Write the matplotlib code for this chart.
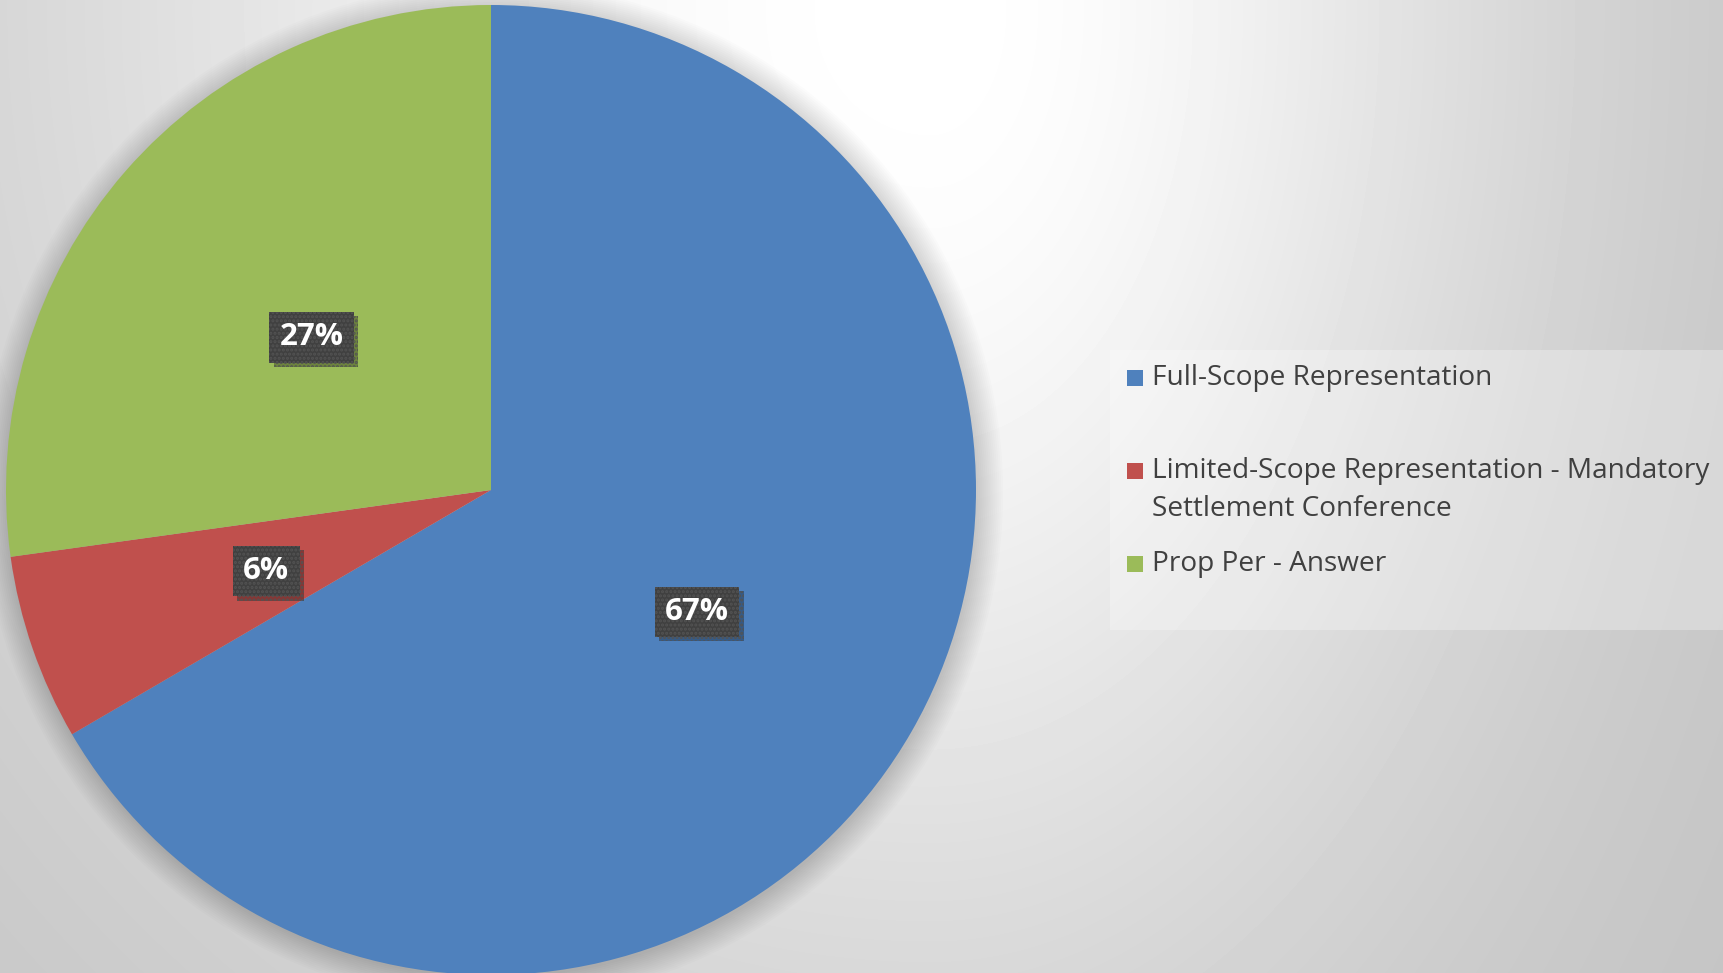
import numpy as np
import matplotlib
matplotlib.use("Agg")
import matplotlib.pyplot as plt
from matplotlib.patches import Circle, Rectangle
import matplotlib.patheffects as pe

categories = ["Full-Scope Representation",
              "Limited-Scope Representation - Mandatory Settlement Conference",
              "Prop Per - Answer"]
shares = [66.6, 6.2, 27.2]
colors = ["#4F81BD", "#C0504D", "#9BBB59"]

W, H = 1723, 973
fig = plt.figure(figsize=(W / 100, H / 100), dpi=100)

# background: soft radial gradient, brightest near the top middle
bg = fig.add_axes([0, 0, 1, 1], zorder=0)
xx, yy = np.meshgrid(np.arange(W), np.arange(H))
dx = xx - 930.0
dx = np.where(dx < 0, dx / 1300.0, dx / 850.0)
dy = (yy - 10.0) / 1400.0
r = np.sqrt(dx ** 2 + dy ** 2)
v = (193 + 62 * np.exp(-(r / 0.7) ** 2)) / 255.0
bg.imshow(v, cmap="gray", vmin=0, vmax=1, aspect="auto", interpolation="bilinear")
bg.set_axis_off()

# pie: centre (491, 490) px, radius 485 px
R = 485
ax = fig.add_axes([(491 - R) / W, (H - 490 - R) / H, 2 * R / W, 2 * R / H], zorder=1)

# soft glow shadow behind the pie
for k in range(14):
    ax.add_patch(Circle((0.004, -0.006), 1 + k * 0.004, color="black", alpha=0.013,
                        lw=0, zorder=0, clip_on=False))

wedges, texts, autotexts = ax.pie(shares, colors=colors, startangle=90, counterclock=False,
                                  autopct="%1.0f%%", pctdistance=0.49,
                                  wedgeprops=dict(linewidth=0, zorder=2),
                                  textprops=dict(color="white", fontsize=22.5,
                                                 fontweight="bold", family="Open Sans"))
plt.rcParams["hatch.linewidth"] = 1.5
for t in autotexts:
    t.set_zorder(5)
    t.set_va("center_baseline")
    t.set_bbox(dict(boxstyle="square,pad=0.33", fc="#404040", ec="#535353",
                    lw=0, hatch="...."))
    t.get_bbox_patch().set_path_effects([
        pe.SimplePatchShadow(offset=(3, -3), shadow_rgbFace="black", alpha=0.3),
        pe.Normal()])
ax.set_xlim(-1, 1)
ax.set_ylim(-1, 1)
ax.set_axis_off()

# legend panel
def fx(px):
    return px / W

def fy(py):
    return 1 - py / H

fig.patches.append(Rectangle((fx(1110), fy(630)), fx(1723) - fx(1110), fy(350) - fy(630),
                             transform=fig.transFigure, fc="white", alpha=0.28, lw=0,
                             zorder=2))
legend_labels = [categories[0],
                 categories[1].replace(" Settlement", "\nSettlement"),
                 categories[2]]
row_y = [378, 471, 564]
line_h = 38
for lab, col, y in zip(legend_labels, colors, row_y):
    fig.patches.append(Rectangle((fx(1127), fy(y + 8)), fx(16), 16 / H,
                                 transform=fig.transFigure, fc=col, lw=0, zorder=3))
    for j, line in enumerate(lab.split("\n")):
        fig.text(fx(1152), fy(y + j * line_h), line, fontsize=20.2, family="Open Sans",
                 color="#404040", va="center", ha="left", zorder=4)

fig.savefig("out.png", dpi=100)
